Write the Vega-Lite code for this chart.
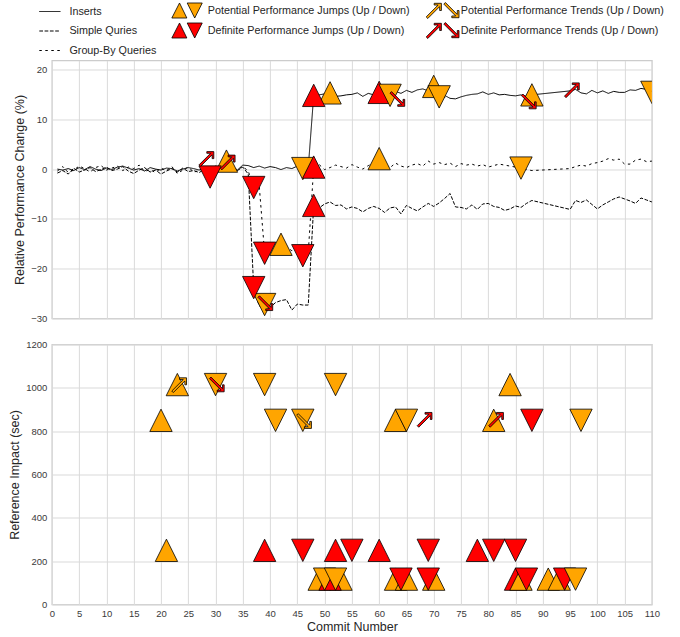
{
  "$schema": "https://vega.github.io/schema/vega-lite/v6.json",
  "padding": {"left": 7.9, "top": 0.5, "right": 5, "bottom": 2},
  "spacing": 14,
  "config": {
    "font": "Liberation Sans",
    "view": {"stroke": "#cccccc", "strokeWidth": 1.3},
    "axis": {"domain": false, "ticks": false, "gridColor": "#dadada", "gridWidth": 1, "labelFontSize": 9.5, "labelColor": "#3a3a3a", "labelPadding": 5, "titleFontSize": 12.5, "titleFontWeight": "normal", "titleColor": "#262626", "titlePadding": 4, "labelOverlap": false, "labelFlush": false},
    "legend": {"title": null, "orient": "none", "direction": "vertical", "symbolSize": 361, "labelOffset": 10.5, "labelFontSize": 10.8, "labelColor": "#262626", "labelLimit": 300, "rowPadding": 0, "padding": 0, "symbolStrokeColor": "#000000", "symbolOpacity": 1}
  },
  "datasets": {
    "lines": [
      {"name":"Inserts","commit":1,"change":0.0},{"name":"Inserts","commit":2,"change":-0.2},{"name":"Inserts","commit":3,"change":0.1},{"name":"Inserts","commit":4,"change":-0.3},{"name":"Inserts","commit":5,"change":0.3},{"name":"Inserts","commit":6,"change":-0.1},{"name":"Inserts","commit":7,"change":0.5},{"name":"Inserts","commit":8,"change":0.0},{"name":"Inserts","commit":9,"change":-0.3},{"name":"Inserts","commit":10,"change":0.2},
      {"name":"Inserts","commit":11,"change":-0.1},{"name":"Inserts","commit":12,"change":0.4},{"name":"Inserts","commit":13,"change":0.6},{"name":"Inserts","commit":14,"change":0.2},{"name":"Inserts","commit":15,"change":-0.2},{"name":"Inserts","commit":16,"change":0.1},{"name":"Inserts","commit":17,"change":-0.4},{"name":"Inserts","commit":18,"change":0.3},{"name":"Inserts","commit":19,"change":0.0},{"name":"Inserts","commit":20,"change":-0.2},
      {"name":"Inserts","commit":21,"change":0.2},{"name":"Inserts","commit":22,"change":0.1},{"name":"Inserts","commit":23,"change":-0.4},{"name":"Inserts","commit":24,"change":0.0},{"name":"Inserts","commit":25,"change":0.3},{"name":"Inserts","commit":26,"change":0.1},{"name":"Inserts","commit":27,"change":-0.2},{"name":"Inserts","commit":28,"change":0.4},{"name":"Inserts","commit":29,"change":0.2},{"name":"Inserts","commit":30,"change":0.6},
      {"name":"Inserts","commit":31,"change":0.3},{"name":"Inserts","commit":32,"change":0.5},{"name":"Inserts","commit":33,"change":0.1},{"name":"Inserts","commit":34,"change":-0.2},{"name":"Inserts","commit":35,"change":0.8},{"name":"Inserts","commit":36,"change":0.7},{"name":"Inserts","commit":37,"change":0.3},{"name":"Inserts","commit":38,"change":0.6},{"name":"Inserts","commit":39,"change":0.2},{"name":"Inserts","commit":40,"change":0.5},
      {"name":"Inserts","commit":41,"change":0.3},{"name":"Inserts","commit":42,"change":-0.1},{"name":"Inserts","commit":43,"change":0.3},{"name":"Inserts","commit":44,"change":0.1},{"name":"Inserts","commit":45,"change":0.6},{"name":"Inserts","commit":46,"change":0.2},{"name":"Inserts","commit":47,"change":0.3},{"name":"Inserts","commit":48,"change":14.8},{"name":"Inserts","commit":49,"change":14.9},{"name":"Inserts","commit":50,"change":15.1},
      {"name":"Inserts","commit":51,"change":15.3},{"name":"Inserts","commit":52,"change":14.6},{"name":"Inserts","commit":53,"change":14.7},{"name":"Inserts","commit":54,"change":14.9},{"name":"Inserts","commit":55,"change":15.0},{"name":"Inserts","commit":56,"change":15.3},{"name":"Inserts","commit":57,"change":14.6},{"name":"Inserts","commit":58,"change":15.2},{"name":"Inserts","commit":59,"change":14.9},{"name":"Inserts","commit":60,"change":15.4},
      {"name":"Inserts","commit":61,"change":15.0},{"name":"Inserts","commit":62,"change":14.8},{"name":"Inserts","commit":63,"change":15.6},{"name":"Inserts","commit":64,"change":15.2},{"name":"Inserts","commit":65,"change":15.8},{"name":"Inserts","commit":66,"change":15.4},{"name":"Inserts","commit":67,"change":15.9},{"name":"Inserts","commit":68,"change":16.1},{"name":"Inserts","commit":69,"change":15.7},{"name":"Inserts","commit":70,"change":16.6},
      {"name":"Inserts","commit":71,"change":14.5},{"name":"Inserts","commit":72,"change":14.8},{"name":"Inserts","commit":73,"change":14.2},{"name":"Inserts","commit":74,"change":14.1},{"name":"Inserts","commit":75,"change":14.5},{"name":"Inserts","commit":76,"change":14.8},{"name":"Inserts","commit":77,"change":15.0},{"name":"Inserts","commit":78,"change":15.1},{"name":"Inserts","commit":79,"change":15.5},{"name":"Inserts","commit":80,"change":15.0},
      {"name":"Inserts","commit":81,"change":15.3},{"name":"Inserts","commit":82,"change":14.9},{"name":"Inserts","commit":83,"change":15.0},{"name":"Inserts","commit":84,"change":14.8},{"name":"Inserts","commit":85,"change":14.7},{"name":"Inserts","commit":86,"change":14.9},{"name":"Inserts","commit":87,"change":14.6},{"name":"Inserts","commit":88,"change":14.9},{"name":"Inserts","commit":95,"change":15.7},{"name":"Inserts","commit":96,"change":16.0},
      {"name":"Inserts","commit":97,"change":15.3},{"name":"Inserts","commit":98,"change":15.1},{"name":"Inserts","commit":99,"change":15.8},{"name":"Inserts","commit":100,"change":15.3},{"name":"Inserts","commit":101,"change":15.7},{"name":"Inserts","commit":102,"change":15.2},{"name":"Inserts","commit":103,"change":15.6},{"name":"Inserts","commit":104,"change":15.4},{"name":"Inserts","commit":105,"change":15.4},{"name":"Inserts","commit":106,"change":15.9},
      {"name":"Inserts","commit":107,"change":15.8},{"name":"Inserts","commit":108,"change":16.2},{"name":"Inserts","commit":109,"change":16.0},{"name":"Inserts","commit":110,"change":15.6},

      {"name":"Simple Quries","commit":1,"change":-0.8},{"name":"Simple Quries","commit":2,"change":-0.3},{"name":"Simple Quries","commit":3,"change":-1.0},{"name":"Simple Quries","commit":4,"change":0.2},{"name":"Simple Quries","commit":5,"change":-0.6},{"name":"Simple Quries","commit":6,"change":-0.2},{"name":"Simple Quries","commit":7,"change":0.3},{"name":"Simple Quries","commit":8,"change":-0.5},{"name":"Simple Quries","commit":9,"change":-0.1},{"name":"Simple Quries","commit":10,"change":0.4},
      {"name":"Simple Quries","commit":11,"change":-0.3},{"name":"Simple Quries","commit":12,"change":0.0},{"name":"Simple Quries","commit":13,"change":0.5},{"name":"Simple Quries","commit":14,"change":-0.4},{"name":"Simple Quries","commit":15,"change":-0.9},{"name":"Simple Quries","commit":16,"change":-0.2},{"name":"Simple Quries","commit":17,"change":0.3},{"name":"Simple Quries","commit":18,"change":-0.6},{"name":"Simple Quries","commit":19,"change":-0.2},{"name":"Simple Quries","commit":20,"change":-1.0},
      {"name":"Simple Quries","commit":21,"change":-0.4},{"name":"Simple Quries","commit":22,"change":0.1},{"name":"Simple Quries","commit":23,"change":-0.6},{"name":"Simple Quries","commit":24,"change":0.2},{"name":"Simple Quries","commit":25,"change":-0.5},{"name":"Simple Quries","commit":26,"change":-0.3},{"name":"Simple Quries","commit":27,"change":-0.7},{"name":"Simple Quries","commit":28,"change":0.0},{"name":"Simple Quries","commit":29,"change":-1.6},{"name":"Simple Quries","commit":30,"change":-0.5},
      {"name":"Simple Quries","commit":31,"change":0.3},{"name":"Simple Quries","commit":32,"change":-0.1},{"name":"Simple Quries","commit":33,"change":0.2},{"name":"Simple Quries","commit":34,"change":-0.3},{"name":"Simple Quries","commit":35,"change":0.4},{"name":"Simple Quries","commit":36,"change":-1.0},{"name":"Simple Quries","commit":37,"change":-23.8},{"name":"Simple Quries","commit":38,"change":-27.5},{"name":"Simple Quries","commit":39,"change":-27.2},{"name":"Simple Quries","commit":40,"change":-27.8},
      {"name":"Simple Quries","commit":41,"change":-26.8},{"name":"Simple Quries","commit":42,"change":-26.4},{"name":"Simple Quries","commit":43,"change":-26.2},{"name":"Simple Quries","commit":44,"change":-28.3},{"name":"Simple Quries","commit":45,"change":-27.1},{"name":"Simple Quries","commit":46,"change":-27.3},{"name":"Simple Quries","commit":47,"change":-27.3},{"name":"Simple Quries","commit":48,"change":-7.3},{"name":"Simple Quries","commit":49,"change":-7.8},{"name":"Simple Quries","commit":50,"change":-7.0},
      {"name":"Simple Quries","commit":51,"change":-6.6},{"name":"Simple Quries","commit":52,"change":-7.3},{"name":"Simple Quries","commit":53,"change":-7.2},{"name":"Simple Quries","commit":54,"change":-8.0},{"name":"Simple Quries","commit":55,"change":-7.6},{"name":"Simple Quries","commit":56,"change":-7.9},{"name":"Simple Quries","commit":57,"change":-8.6},{"name":"Simple Quries","commit":58,"change":-7.9},{"name":"Simple Quries","commit":59,"change":-7.5},{"name":"Simple Quries","commit":60,"change":-7.9},
      {"name":"Simple Quries","commit":61,"change":-8.7},{"name":"Simple Quries","commit":62,"change":-7.8},{"name":"Simple Quries","commit":63,"change":-7.6},{"name":"Simple Quries","commit":64,"change":-9.0},{"name":"Simple Quries","commit":65,"change":-7.3},{"name":"Simple Quries","commit":66,"change":-7.9},{"name":"Simple Quries","commit":67,"change":-8.4},{"name":"Simple Quries","commit":68,"change":-7.6},{"name":"Simple Quries","commit":69,"change":-6.9},{"name":"Simple Quries","commit":70,"change":-7.5},
      {"name":"Simple Quries","commit":71,"change":-6.8},{"name":"Simple Quries","commit":72,"change":-5.9},{"name":"Simple Quries","commit":73,"change":-4.9},{"name":"Simple Quries","commit":74,"change":-7.6},{"name":"Simple Quries","commit":75,"change":-7.7},{"name":"Simple Quries","commit":76,"change":-8.0},{"name":"Simple Quries","commit":77,"change":-7.2},{"name":"Simple Quries","commit":78,"change":-8.1},{"name":"Simple Quries","commit":79,"change":-7.0},{"name":"Simple Quries","commit":80,"change":-6.9},
      {"name":"Simple Quries","commit":81,"change":-7.5},{"name":"Simple Quries","commit":82,"change":-7.7},{"name":"Simple Quries","commit":83,"change":-8.3},{"name":"Simple Quries","commit":84,"change":-8.0},{"name":"Simple Quries","commit":85,"change":-7.4},{"name":"Simple Quries","commit":86,"change":-7.7},{"name":"Simple Quries","commit":87,"change":-6.9},{"name":"Simple Quries","commit":88,"change":-6.3},{"name":"Simple Quries","commit":95,"change":-8.1},{"name":"Simple Quries","commit":96,"change":-6.3},
      {"name":"Simple Quries","commit":97,"change":-6.7},{"name":"Simple Quries","commit":98,"change":-6.2},{"name":"Simple Quries","commit":99,"change":-7.1},{"name":"Simple Quries","commit":100,"change":-8.0},{"name":"Simple Quries","commit":101,"change":-7.2},{"name":"Simple Quries","commit":102,"change":-6.6},{"name":"Simple Quries","commit":103,"change":-6.0},{"name":"Simple Quries","commit":104,"change":-5.6},{"name":"Simple Quries","commit":105,"change":-6.0},{"name":"Simple Quries","commit":106,"change":-6.4},
      {"name":"Simple Quries","commit":107,"change":-6.9},{"name":"Simple Quries","commit":108,"change":-5.8},{"name":"Simple Quries","commit":109,"change":-6.2},{"name":"Simple Quries","commit":110,"change":-6.6},

      {"name":"Group-By Queries","commit":1,"change":-0.4},{"name":"Group-By Queries","commit":2,"change":0.5},{"name":"Group-By Queries","commit":3,"change":-0.7},{"name":"Group-By Queries","commit":4,"change":-0.2},{"name":"Group-By Queries","commit":5,"change":0.6},{"name":"Group-By Queries","commit":6,"change":0.1},{"name":"Group-By Queries","commit":7,"change":-0.6},{"name":"Group-By Queries","commit":8,"change":0.3},{"name":"Group-By Queries","commit":9,"change":0.7},{"name":"Group-By Queries","commit":10,"change":-0.2},
      {"name":"Group-By Queries","commit":11,"change":0.2},{"name":"Group-By Queries","commit":12,"change":0.6},{"name":"Group-By Queries","commit":13,"change":-0.3},{"name":"Group-By Queries","commit":14,"change":0.4},{"name":"Group-By Queries","commit":15,"change":0.1},{"name":"Group-By Queries","commit":16,"change":0.8},{"name":"Group-By Queries","commit":17,"change":-0.5},{"name":"Group-By Queries","commit":18,"change":-0.1},{"name":"Group-By Queries","commit":19,"change":-0.7},{"name":"Group-By Queries","commit":20,"change":0.2},
      {"name":"Group-By Queries","commit":21,"change":-0.3},{"name":"Group-By Queries","commit":22,"change":0.5},{"name":"Group-By Queries","commit":23,"change":-0.9},{"name":"Group-By Queries","commit":24,"change":-0.2},{"name":"Group-By Queries","commit":25,"change":0.4},{"name":"Group-By Queries","commit":26,"change":-0.6},{"name":"Group-By Queries","commit":27,"change":-0.3},{"name":"Group-By Queries","commit":28,"change":0.3},{"name":"Group-By Queries","commit":29,"change":0.1},{"name":"Group-By Queries","commit":30,"change":-0.4},
      {"name":"Group-By Queries","commit":31,"change":0.7},{"name":"Group-By Queries","commit":32,"change":1.6},{"name":"Group-By Queries","commit":33,"change":0.3},{"name":"Group-By Queries","commit":34,"change":-0.1},{"name":"Group-By Queries","commit":35,"change":0.5},{"name":"Group-By Queries","commit":36,"change":-0.4},{"name":"Group-By Queries","commit":37,"change":-3.7},{"name":"Group-By Queries","commit":38,"change":-3.2},{"name":"Group-By Queries","commit":39,"change":-16.9},{"name":"Group-By Queries","commit":40,"change":-16.0},
      {"name":"Group-By Queries","commit":41,"change":-15.8},{"name":"Group-By Queries","commit":42,"change":-15.1},{"name":"Group-By Queries","commit":43,"change":-15.6},{"name":"Group-By Queries","commit":44,"change":-16.4},{"name":"Group-By Queries","commit":45,"change":-16.2},{"name":"Group-By Queries","commit":46,"change":-17.4},{"name":"Group-By Queries","commit":47,"change":-16.8},{"name":"Group-By Queries","commit":48,"change":0.4},{"name":"Group-By Queries","commit":49,"change":0.9},{"name":"Group-By Queries","commit":50,"change":-0.1},
      {"name":"Group-By Queries","commit":51,"change":0.3},{"name":"Group-By Queries","commit":52,"change":0.8},{"name":"Group-By Queries","commit":53,"change":0.5},{"name":"Group-By Queries","commit":54,"change":0.2},{"name":"Group-By Queries","commit":55,"change":0.9},{"name":"Group-By Queries","commit":56,"change":0.4},{"name":"Group-By Queries","commit":57,"change":0.0},{"name":"Group-By Queries","commit":58,"change":0.7},{"name":"Group-By Queries","commit":59,"change":1.2},{"name":"Group-By Queries","commit":60,"change":2.1},
      {"name":"Group-By Queries","commit":61,"change":1.0},{"name":"Group-By Queries","commit":62,"change":0.3},{"name":"Group-By Queries","commit":63,"change":1.2},{"name":"Group-By Queries","commit":64,"change":0.6},{"name":"Group-By Queries","commit":65,"change":0.3},{"name":"Group-By Queries","commit":66,"change":0.8},{"name":"Group-By Queries","commit":67,"change":1.1},{"name":"Group-By Queries","commit":68,"change":0.6},{"name":"Group-By Queries","commit":69,"change":1.6},{"name":"Group-By Queries","commit":70,"change":1.0},
      {"name":"Group-By Queries","commit":71,"change":1.3},{"name":"Group-By Queries","commit":72,"change":0.9},{"name":"Group-By Queries","commit":73,"change":1.2},{"name":"Group-By Queries","commit":74,"change":0.5},{"name":"Group-By Queries","commit":75,"change":1.1},{"name":"Group-By Queries","commit":76,"change":0.8},{"name":"Group-By Queries","commit":77,"change":1.0},{"name":"Group-By Queries","commit":78,"change":0.6},{"name":"Group-By Queries","commit":79,"change":0.9},{"name":"Group-By Queries","commit":80,"change":0.4},
      {"name":"Group-By Queries","commit":81,"change":0.7},{"name":"Group-By Queries","commit":82,"change":1.0},{"name":"Group-By Queries","commit":83,"change":0.8},{"name":"Group-By Queries","commit":84,"change":0.6},{"name":"Group-By Queries","commit":85,"change":0.4},{"name":"Group-By Queries","commit":86,"change":0.2},{"name":"Group-By Queries","commit":87,"change":-0.1},{"name":"Group-By Queries","commit":88,"change":-0.3},{"name":"Group-By Queries","commit":95,"change":0.1},{"name":"Group-By Queries","commit":96,"change":0.5},
      {"name":"Group-By Queries","commit":97,"change":0.8},{"name":"Group-By Queries","commit":98,"change":0.6},{"name":"Group-By Queries","commit":99,"change":1.1},{"name":"Group-By Queries","commit":100,"change":1.3},{"name":"Group-By Queries","commit":101,"change":1.6},{"name":"Group-By Queries","commit":102,"change":2.1},{"name":"Group-By Queries","commit":103,"change":1.8},{"name":"Group-By Queries","commit":104,"change":2.0},{"name":"Group-By Queries","commit":105,"change":1.0},{"name":"Group-By Queries","commit":106,"change":1.0},
      {"name":"Group-By Queries","commit":107,"change":1.8},{"name":"Group-By Queries","commit":108,"change":2.0},{"name":"Group-By Queries","commit":109,"change":1.5},{"name":"Group-By Queries","commit":110,"change":1.6}
    ],
    "top_jumps": [
      {"kind":"Potential Performance Jumps (Up / Down)","event":"jump up","commit":32,"change":1.6},
      {"kind":"Potential Performance Jumps (Up / Down)","event":"jump down","commit":39,"change":-27.2},
      {"kind":"Potential Performance Jumps (Up / Down)","event":"jump up","commit":42,"change":-15.1},
      {"kind":"Potential Performance Jumps (Up / Down)","event":"jump down","commit":46,"change":0.1},
      {"kind":"Potential Performance Jumps (Up / Down)","event":"jump up","commit":51,"change":15.3},
      {"kind":"Potential Performance Jumps (Up / Down)","event":"jump up","commit":60,"change":2.1},
      {"kind":"Definite Performance Jumps (Up / Down)","event":"jump up","commit":60,"change":15.4},
      {"kind":"Potential Performance Jumps (Up / Down)","event":"jump down","commit":62,"change":14.8},
      {"kind":"Potential Performance Jumps (Up / Down)","event":"jump up","commit":70,"change":16.6},
      {"kind":"Potential Performance Jumps (Up / Down)","event":"jump down","commit":71,"change":14.5},
      {"kind":"Potential Performance Jumps (Up / Down)","event":"jump down","commit":86,"change":0.2},
      {"kind":"Potential Performance Jumps (Up / Down)","event":"jump up","commit":88,"change":14.9},
      {"kind":"Potential Performance Jumps (Up / Down)","event":"jump down","commit":110,"change":15.4},
      {"kind":"Definite Performance Jumps (Up / Down)","event":"jump down","commit":29,"change":-1.6},
      {"kind":"Definite Performance Jumps (Up / Down)","event":"jump down","commit":37,"change":-3.7},
      {"kind":"Definite Performance Jumps (Up / Down)","event":"jump down","commit":37,"change":-23.8},
      {"kind":"Definite Performance Jumps (Up / Down)","event":"jump down","commit":39,"change":-16.9},
      {"kind":"Definite Performance Jumps (Up / Down)","event":"jump down","commit":46,"change":-17.4},
      {"kind":"Definite Performance Jumps (Up / Down)","event":"jump up","commit":48,"change":0.4},
      {"kind":"Definite Performance Jumps (Up / Down)","event":"jump up","commit":48,"change":-7.3},
      {"kind":"Definite Performance Jumps (Up / Down)","event":"jump up","commit":48,"change":14.8}
    ],
    "top_trends": [
      {"kind":"Definite Performance Trends (Up / Down)","event":"trend up","commit":28.4,"change":2.1},
      {"kind":"Definite Performance Trends (Up / Down)","event":"trend up","commit":32.3,"change":1.4},
      {"kind":"Definite Performance Trends (Up / Down)","event":"trend down","commit":39.2,"change":-27.0},
      {"kind":"Definite Performance Trends (Up / Down)","event":"trend down","commit":63.4,"change":14.0},
      {"kind":"Definite Performance Trends (Up / Down)","event":"trend down","commit":87.5,"change":13.5},
      {"kind":"Definite Performance Trends (Up / Down)","event":"trend up","commit":95.4,"change":15.9}
    ],
    "bottom_trends_behind": [
      {"kind":"Potential Performance Trends (Up / Down)","event":"trend up","commit":62.8,"impact":105},
      {"kind":"Potential Performance Trends (Up / Down)","event":"trend up","commit":86,"impact":110},
      {"kind":"Potential Performance Trends (Up / Down)","event":"trend up","commit":93,"impact":105}
    ],
    "bottom_jumps": [
      {"kind":"Potential Performance Jumps (Up / Down)","event":"jump up","commit":20,"impact":850},
      {"kind":"Potential Performance Jumps (Up / Down)","event":"jump up","commit":23,"impact":1015},
      {"kind":"Potential Performance Jumps (Up / Down)","event":"jump down","commit":30,"impact":1015},
      {"kind":"Potential Performance Jumps (Up / Down)","event":"jump down","commit":39,"impact":1015},
      {"kind":"Potential Performance Jumps (Up / Down)","event":"jump down","commit":41,"impact":850},
      {"kind":"Potential Performance Jumps (Up / Down)","event":"jump down","commit":46,"impact":850},
      {"kind":"Potential Performance Jumps (Up / Down)","event":"jump down","commit":52,"impact":1015},
      {"kind":"Potential Performance Jumps (Up / Down)","event":"jump up","commit":63,"impact":850},
      {"kind":"Potential Performance Jumps (Up / Down)","event":"jump down","commit":65,"impact":850},
      {"kind":"Potential Performance Jumps (Up / Down)","event":"jump up","commit":81,"impact":850},
      {"kind":"Potential Performance Jumps (Up / Down)","event":"jump up","commit":84,"impact":1015},
      {"kind":"Potential Performance Jumps (Up / Down)","event":"jump down","commit":97,"impact":850},
      {"kind":"Potential Performance Jumps (Up / Down)","event":"jump up","commit":21,"impact":250},
      {"kind":"Potential Performance Jumps (Up / Down)","event":"jump up","commit":49,"impact":117},
      {"kind":"Potential Performance Jumps (Up / Down)","event":"jump up","commit":53,"impact":117},
      {"kind":"Definite Performance Jumps (Up / Down)","event":"jump up","commit":51,"impact":117},
      {"kind":"Potential Performance Jumps (Up / Down)","event":"jump down","commit":50,"impact":117},
      {"kind":"Potential Performance Jumps (Up / Down)","event":"jump down","commit":52,"impact":117},
      {"kind":"Potential Performance Jumps (Up / Down)","event":"jump up","commit":63,"impact":117},
      {"kind":"Potential Performance Jumps (Up / Down)","event":"jump up","commit":65,"impact":117},
      {"kind":"Definite Performance Jumps (Up / Down)","event":"jump down","commit":64,"impact":117},
      {"kind":"Potential Performance Jumps (Up / Down)","event":"jump up","commit":70,"impact":117},
      {"kind":"Definite Performance Jumps (Up / Down)","event":"jump down","commit":69,"impact":117},
      {"kind":"Definite Performance Jumps (Up / Down)","event":"jump up","commit":85,"impact":117},
      {"kind":"Potential Performance Jumps (Up / Down)","event":"jump up","commit":86,"impact":117},
      {"kind":"Definite Performance Jumps (Up / Down)","event":"jump down","commit":87,"impact":117},
      {"kind":"Potential Performance Jumps (Up / Down)","event":"jump up","commit":91,"impact":117},
      {"kind":"Potential Performance Jumps (Up / Down)","event":"jump up","commit":93,"impact":117},
      {"kind":"Definite Performance Jumps (Up / Down)","event":"jump down","commit":94,"impact":117},
      {"kind":"Potential Performance Jumps (Up / Down)","event":"jump down","commit":96,"impact":117},
      {"kind":"Definite Performance Jumps (Up / Down)","event":"jump up","commit":39,"impact":250},
      {"kind":"Definite Performance Jumps (Up / Down)","event":"jump down","commit":46,"impact":250},
      {"kind":"Definite Performance Jumps (Up / Down)","event":"jump up","commit":52,"impact":250},
      {"kind":"Definite Performance Jumps (Up / Down)","event":"jump down","commit":55,"impact":250},
      {"kind":"Definite Performance Jumps (Up / Down)","event":"jump up","commit":60,"impact":250},
      {"kind":"Definite Performance Jumps (Up / Down)","event":"jump down","commit":69,"impact":250},
      {"kind":"Definite Performance Jumps (Up / Down)","event":"jump up","commit":78,"impact":250},
      {"kind":"Definite Performance Jumps (Up / Down)","event":"jump down","commit":81,"impact":250},
      {"kind":"Definite Performance Jumps (Up / Down)","event":"jump down","commit":85,"impact":250},
      {"kind":"Definite Performance Jumps (Up / Down)","event":"jump down","commit":88,"impact":850}
    ],
    "bottom_trends": [
      {"kind":"Potential Performance Trends (Up / Down)","event":"trend up","commit":23.4,"impact":1014},
      {"kind":"Potential Performance Trends (Up / Down)","event":"trend down","commit":46.3,"impact":845},
      {"kind":"Definite Performance Trends (Up / Down)","event":"trend down","commit":30.3,"impact":1014},
      {"kind":"Definite Performance Trends (Up / Down)","event":"trend up","commit":68.4,"impact":854},
      {"kind":"Definite Performance Trends (Up / Down)","event":"trend up","commit":81.5,"impact":854}
    ]
  },
  "vconcat": [
    {
      "width": 600,
      "height": 258,
      "encoding": {
        "x": {"field": "commit", "type": "quantitative", "scale": {"domain": [0, 110], "nice": false, "zero": false},
              "axis": {"values": [0,5,10,15,20,25,30,35,40,45,50,55,60,65,70,75,80,85,90,95,100,105,110], "labels": false, "title": null, "grid": true}},
        "y": {"field": "change", "type": "quantitative", "scale": {"domain": [-30, 21.8], "nice": false, "zero": false},
              "axis": {"values": [-30,-20,-10,0,10,20], "format": "d", "title": "Relative Performance Change (%)", "grid": true}}
      },
      "layer": [
        {
          "data": {"name": "lines"},
          "mark": {"type": "line", "strokeWidth": 1, "color": "#000000"},
          "encoding": {
            "strokeDash": {"field": "name", "type": "nominal",
              "scale": {"domain": ["Inserts", "Simple Quries", "Group-By Queries"], "range": [[1, 0], [3.7, 1.6], [2.5, 3.5]]},
              "legend": {"legendX": -13, "legendY": -59, "rowPadding": 4.5, "symbolType": "M-1.01,0L1.22,0", "symbolStrokeWidth": 1}}
          }
        },
        {
          "data": {"name": "top_jumps"},
          "mark": {"type": "point", "filled": true, "opacity": 1, "stroke": "#000000", "strokeWidth": 0.8, "size": 500, "clip": true},
          "encoding": {
            "fill": {"field": "kind", "type": "nominal",
              "scale": {"domain": ["Potential Performance Jumps (Up / Down)", "Definite Performance Jumps (Up / Down)"], "range": ["#FFA500", "#FF0000"]},
              "legend": {"legendX": 125.3, "legendY": -60, "symbolType": "M-1.617,0.791L-0.808,-0.791L-0.034,0.791ZM0,-0.791L1.583,-0.791L0.791,0.791Z", "symbolStrokeWidth": 0.8}},
            "shape": {"field": "event", "type": "nominal",
              "scale": {"domain": ["jump up", "jump down", "trend up", "trend down"],
                "range": ["M0,-1L1,1L-1,1Z", "M0,1L1,-1L-1,-1Z", "M-0.695,0.557L0.338,-0.476L0,-0.476L0,-0.626L0.626,-0.626L0.626,0L0.476,0L0.476,-0.338L-0.557,0.695Z", "M-0.695,-0.557L0.338,0.476L0,0.476L0,0.626L0.626,0.626L0.626,0L0.476,0L0.476,0.338L-0.557,-0.695Z"]},
              "legend": null}
          }
        },
        {
          "data": {"name": "top_trends"},
          "mark": {"type": "point", "filled": true, "opacity": 1, "stroke": "#000000", "strokeWidth": 0.8, "size": 500, "clip": true},
          "encoding": {
            "color": {"field": "kind", "type": "nominal",
              "scale": {"domain": ["Potential Performance Trends (Up / Down)", "Definite Performance Trends (Up / Down)"], "range": ["#FFA500", "#FF0000"]},
              "legend": {"legendX": 378.3, "legendY": -60, "symbolType": "M-1.473,0.674L-0.222,-0.576L-0.632,-0.576L-0.632,-0.758L0.126,-0.758L0.126,0L-0.056,0L-0.056,-0.409L-1.306,0.841ZM0.380,-0.674L1.630,0.576L1.221,0.576L1.221,0.758L1.979,0.758L1.979,0L1.797,0L1.797,0.409L0.546,-0.841Z", "symbolStrokeWidth": 0.8}},
            "shape": {"field": "event", "type": "nominal", "legend": null}
          }
        }
      ]
    },
    {
      "width": 600,
      "height": 260,
      "encoding": {
        "x": {"field": "commit", "type": "quantitative", "scale": {"domain": [0, 110], "nice": false, "zero": false},
              "axis": {"values": [0,5,10,15,20,25,30,35,40,45,50,55,60,65,70,75,80,85,90,95,100,105,110], "title": "Commit Number", "grid": true, "labelAngle": 0, "labelPadding": 4, "titlePadding": 3}},
        "y": {"field": "impact", "type": "quantitative", "scale": {"domain": [0, 1200], "nice": false},
              "axis": {"values": [0,200,400,600,800,1000,1200], "format": "d", "title": "Reference Impact (sec)", "grid": true}},
        "shape": {"field": "event", "type": "nominal", "legend": null}
      },
      "layer": [
        {
          "data": {"name": "bottom_trends_behind"},
          "mark": {"type": "point", "filled": true, "opacity": 1, "stroke": "#000000", "strokeWidth": 0.8, "size": 500},
          "encoding": {"color": {"field": "kind", "type": "nominal"}}
        },
        {
          "data": {"name": "bottom_jumps"},
          "mark": {"type": "point", "filled": true, "opacity": 1, "stroke": "#000000", "strokeWidth": 0.8, "size": 500},
          "encoding": {"fill": {"field": "kind", "type": "nominal"}}
        },
        {
          "data": {"name": "bottom_trends"},
          "mark": {"type": "point", "filled": true, "opacity": 1, "stroke": "#000000", "strokeWidth": 0.8, "size": 500},
          "encoding": {"color": {"field": "kind", "type": "nominal"}}
        }
      ]
    }
  ]
}
